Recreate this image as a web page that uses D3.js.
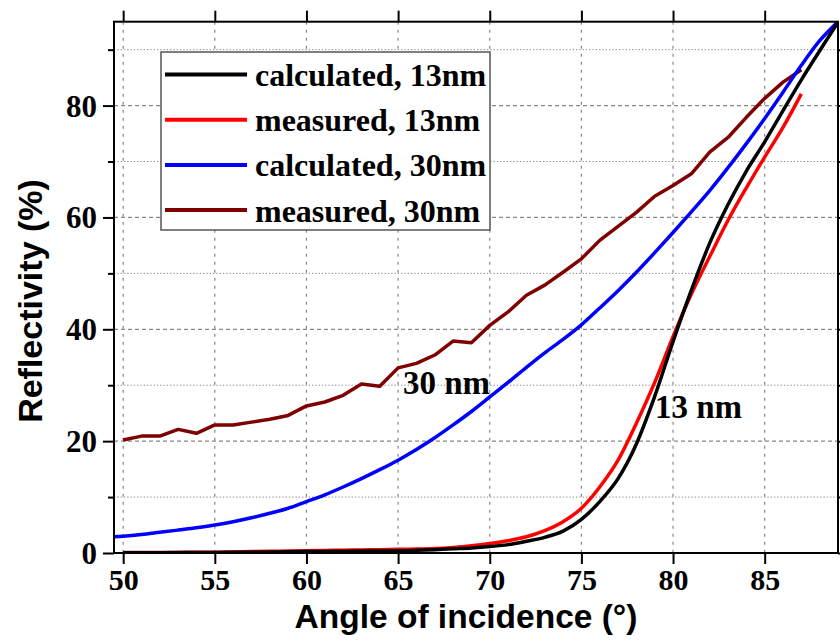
<!DOCTYPE html>
<html><head><meta charset="utf-8">
<script src="https://cdn.jsdelivr.net/npm/d3@7"></script>
<style>html,body{margin:0;padding:0;background:#fff}</style>
</head><body>
<svg id="c" width="840" height="644"></svg>
<script>
// ---- data ----
const xTicks = [50, 55, 60, 65, 70, 75, 80, 85];
const yMajorTicks = [0, 20, 40, 60, 80];
const yMinorTicks = [10, 30, 50, 70, 90];

const anglesCalc = [50,51,52,53,54,55,56,57,58,59,60,61,62,63,64,65,66,67,68,69,70,71,72,73,74,75,76,77,78,79,80,81,82,83,84,85,86,87,88,89];
const calc13 = [0.05,0.05,0.06,0.07,0.08,0.1,0.12,0.15,0.18,0.22,0.25,0.28,0.31,0.34,0.37,0.4,0.5,0.6,0.75,0.9,1.15,1.5,2.1,2.8,3.9,6.0,9.2,13.3,19.5,28.0,37.8,47.0,55.4,62.3,68.3,73.5,79.1,84.6,89.8,94.9];

const anglesCalc30 = [49.5,50,51,52,53,54,55,56,57,58,59,60,61,62,63,64,65,66,67,68,69,70,71,72,73,74,75,76,77,78,79,80,81,82,83,84,85,86,87,88,89];
const calc30 = [2.9,3.0,3.3,3.7,4.1,4.5,5.0,5.6,6.3,7.1,8.0,9.2,10.4,11.8,13.3,14.9,16.6,18.5,20.6,22.9,25.3,27.9,30.5,33.2,35.8,38.2,40.8,43.8,46.9,50.2,53.7,57.3,61.0,64.8,68.9,73.2,77.7,82.4,87.2,91.6,95.0];

const anglesMeas = [50,51,52,53,54,55,56,57,58,59,60,61,62,63,64,65,66,67,68,69,70,71,72,73,74,75,76,77,78,79,80,81,82,83,84,85,86,87];
const meas13 = [0.1,0.1,0.1,0.1,0.15,0.15,0.2,0.25,0.3,0.35,0.4,0.45,0.5,0.55,0.6,0.65,0.7,0.8,1.0,1.3,1.7,2.2,2.9,4.0,5.6,8.0,11.8,16.6,23.2,30.5,38.7,46.3,53.0,59.5,65.3,70.8,76.1,82.1];
const meas30 = [20.2,20.9,20.9,22.1,21.4,22.9,22.9,23.4,23.9,24.6,26.3,27.0,28.2,30.2,29.8,33.1,33.9,35.4,37.9,37.6,40.7,43.1,46.1,47.9,50.2,52.6,55.9,58.4,60.9,63.8,65.7,67.8,71.7,74.3,77.9,81.3,84.2,86.4];

const seriesNames = ["calculated, 13nm", "measured, 13nm", "calculated, 30nm", "measured, 30nm"];
const seriesColors = ["#000000", "#ff0000", "#0000ff", "#7f0000"];

// ---- layout ----
const L = 114, R = 838, T = 21.7, B = 553;
const svg = d3.select("#c");
const x = d3.scaleLinear().domain([49.5, 89]).range([L, R]);
const y = d3.scaleLinear().domain([0, 95]).range([B, T]);

const serif = "'Liberation Serif','Times New Roman',serif";
const sans = "'Liberation Sans',Arial,sans-serif";

// grid
const g = svg.append("g");
g.selectAll(".vg").data(xTicks).join("line")
  .attr("x1", d => x(d)).attr("x2", d => x(d)).attr("y1", T).attr("y2", B)
  .attr("stroke", "#888").attr("stroke-width", 1.2).attr("stroke-dasharray", "3,5");
g.selectAll(".hg").data(yMajorTicks.filter(d => d > 0)).join("line")
  .attr("x1", L).attr("x2", R).attr("y1", d => y(d)).attr("y2", d => y(d))
  .attr("stroke", "#888").attr("stroke-width", 1.2).attr("stroke-dasharray", "4,3");
g.selectAll(".hm").data(yMinorTicks).join("line")
  .attr("x1", L).attr("x2", R).attr("y1", d => y(d)).attr("y2", d => y(d))
  .attr("stroke", "#888").attr("stroke-width", 1).attr("stroke-dasharray", "1.3,2");

// clip
svg.append("clipPath").attr("id", "clip").append("rect")
  .attr("x", L).attr("y", T).attr("width", R - L).attr("height", B - T);

const lineLin = d3.line().x(d => x(d[0])).y(d => y(d[1]));
const lineSmooth = d3.line().x(d => x(d[0])).y(d => y(d[1])).curve(d3.curveMonotoneX);
const series = [
  d3.zip(anglesCalc, calc13),
  d3.zip(anglesMeas, meas13),
  d3.zip(anglesCalc30, calc30),
  d3.zip(anglesMeas, meas30)
];
const smooth = [true, true, true, false];
const drawOrder = [3, 2, 1, 0];
const lg = svg.append("g").attr("clip-path", "url(#clip)");
drawOrder.forEach(i => {
  lg.append("path").datum(series[i]).attr("d", smooth[i] ? lineSmooth : lineLin)
    .attr("fill", "none").attr("stroke", seriesColors[i])
    .attr("stroke-width", 3.5).attr("stroke-linejoin", "round");
});

// axes
const axB = svg.append("g").attr("transform", `translate(0,${B})`)
  .call(d3.axisBottom(x).tickValues(xTicks).tickSize(11).tickPadding(5));
const axT = svg.append("g").attr("transform", `translate(0,${T})`)
  .call(d3.axisTop(x).tickValues(xTicks).tickSize(11).tickFormat(""));
const axL = svg.append("g").attr("transform", `translate(${L},0)`)
  .call(d3.axisLeft(y).tickValues(yMajorTicks).tickSize(11).tickPadding(6));
const axLm = svg.append("g").attr("transform", `translate(${L},0)`)
  .call(d3.axisLeft(y).tickValues(yMinorTicks).tickSize(6).tickFormat(""));
const axR = svg.append("g").attr("transform", `translate(${R},0)`)
  .call(d3.axisRight(y).tickValues(yMajorTicks).tickSize(11).tickFormat(""));
const axRm = svg.append("g").attr("transform", `translate(${R},0)`)
  .call(d3.axisRight(y).tickValues(yMinorTicks).tickSize(6).tickFormat(""));
[axB, axT, axL, axLm, axR, axRm].forEach(a => {
  a.select(".domain").remove();
  a.selectAll(".tick line").attr("stroke", "#000").attr("stroke-width", 2);
  a.selectAll("text").attr("font-family", serif).attr("font-weight", "bold")
    .attr("font-size", 31).attr("fill", "#000");
});
axB.selectAll("text").attr("font-size", 30);
axL.selectAll("text").attr("dy", "0.34em");

// frame
svg.append("rect").attr("x", L).attr("y", T).attr("width", R - L).attr("height", B - T)
  .attr("fill", "none").attr("stroke", "#000").attr("stroke-width", 2);

// axis titles
svg.append("text").attr("x", 466).attr("y", 628).attr("text-anchor", "middle")
  .attr("font-family", sans).attr("font-weight", "bold").attr("font-size", 33.5)
  .text("Angle of incidence (°)");
svg.append("text").attr("transform", "translate(42,301) rotate(-90)").attr("text-anchor", "middle")
  .attr("font-family", sans).attr("font-weight", "bold").attr("font-size", 34)
  .text("Reflectivity (%)");

// annotations
svg.append("text").attr("x", 403).attr("y", 394)
  .attr("font-family", serif).attr("font-weight", "bold").attr("font-size", 33).text("30 nm");
svg.append("text").attr("x", 655).attr("y", 418)
  .attr("font-family", serif).attr("font-weight", "bold").attr("font-size", 33).text("13 nm");

// legend
const leg = svg.append("g");
leg.append("rect").attr("x", 161).attr("y", 52).attr("width", 329).attr("height", 178)
  .attr("fill", "#fff").attr("stroke", "#555").attr("stroke-width", 1.5);
seriesNames.forEach((n, i) => {
  const yy = 74.5 + i * 45.2;
  leg.append("line").attr("x1", 165).attr("x2", 247).attr("y1", yy).attr("y2", yy)
    .attr("stroke", seriesColors[i]).attr("stroke-width", 4);
  leg.append("text").attr("x", 255).attr("y", yy + 11.5)
    .attr("font-family", serif).attr("font-weight", "bold").attr("font-size", 32).text(n);
});
</script>
</body></html>
